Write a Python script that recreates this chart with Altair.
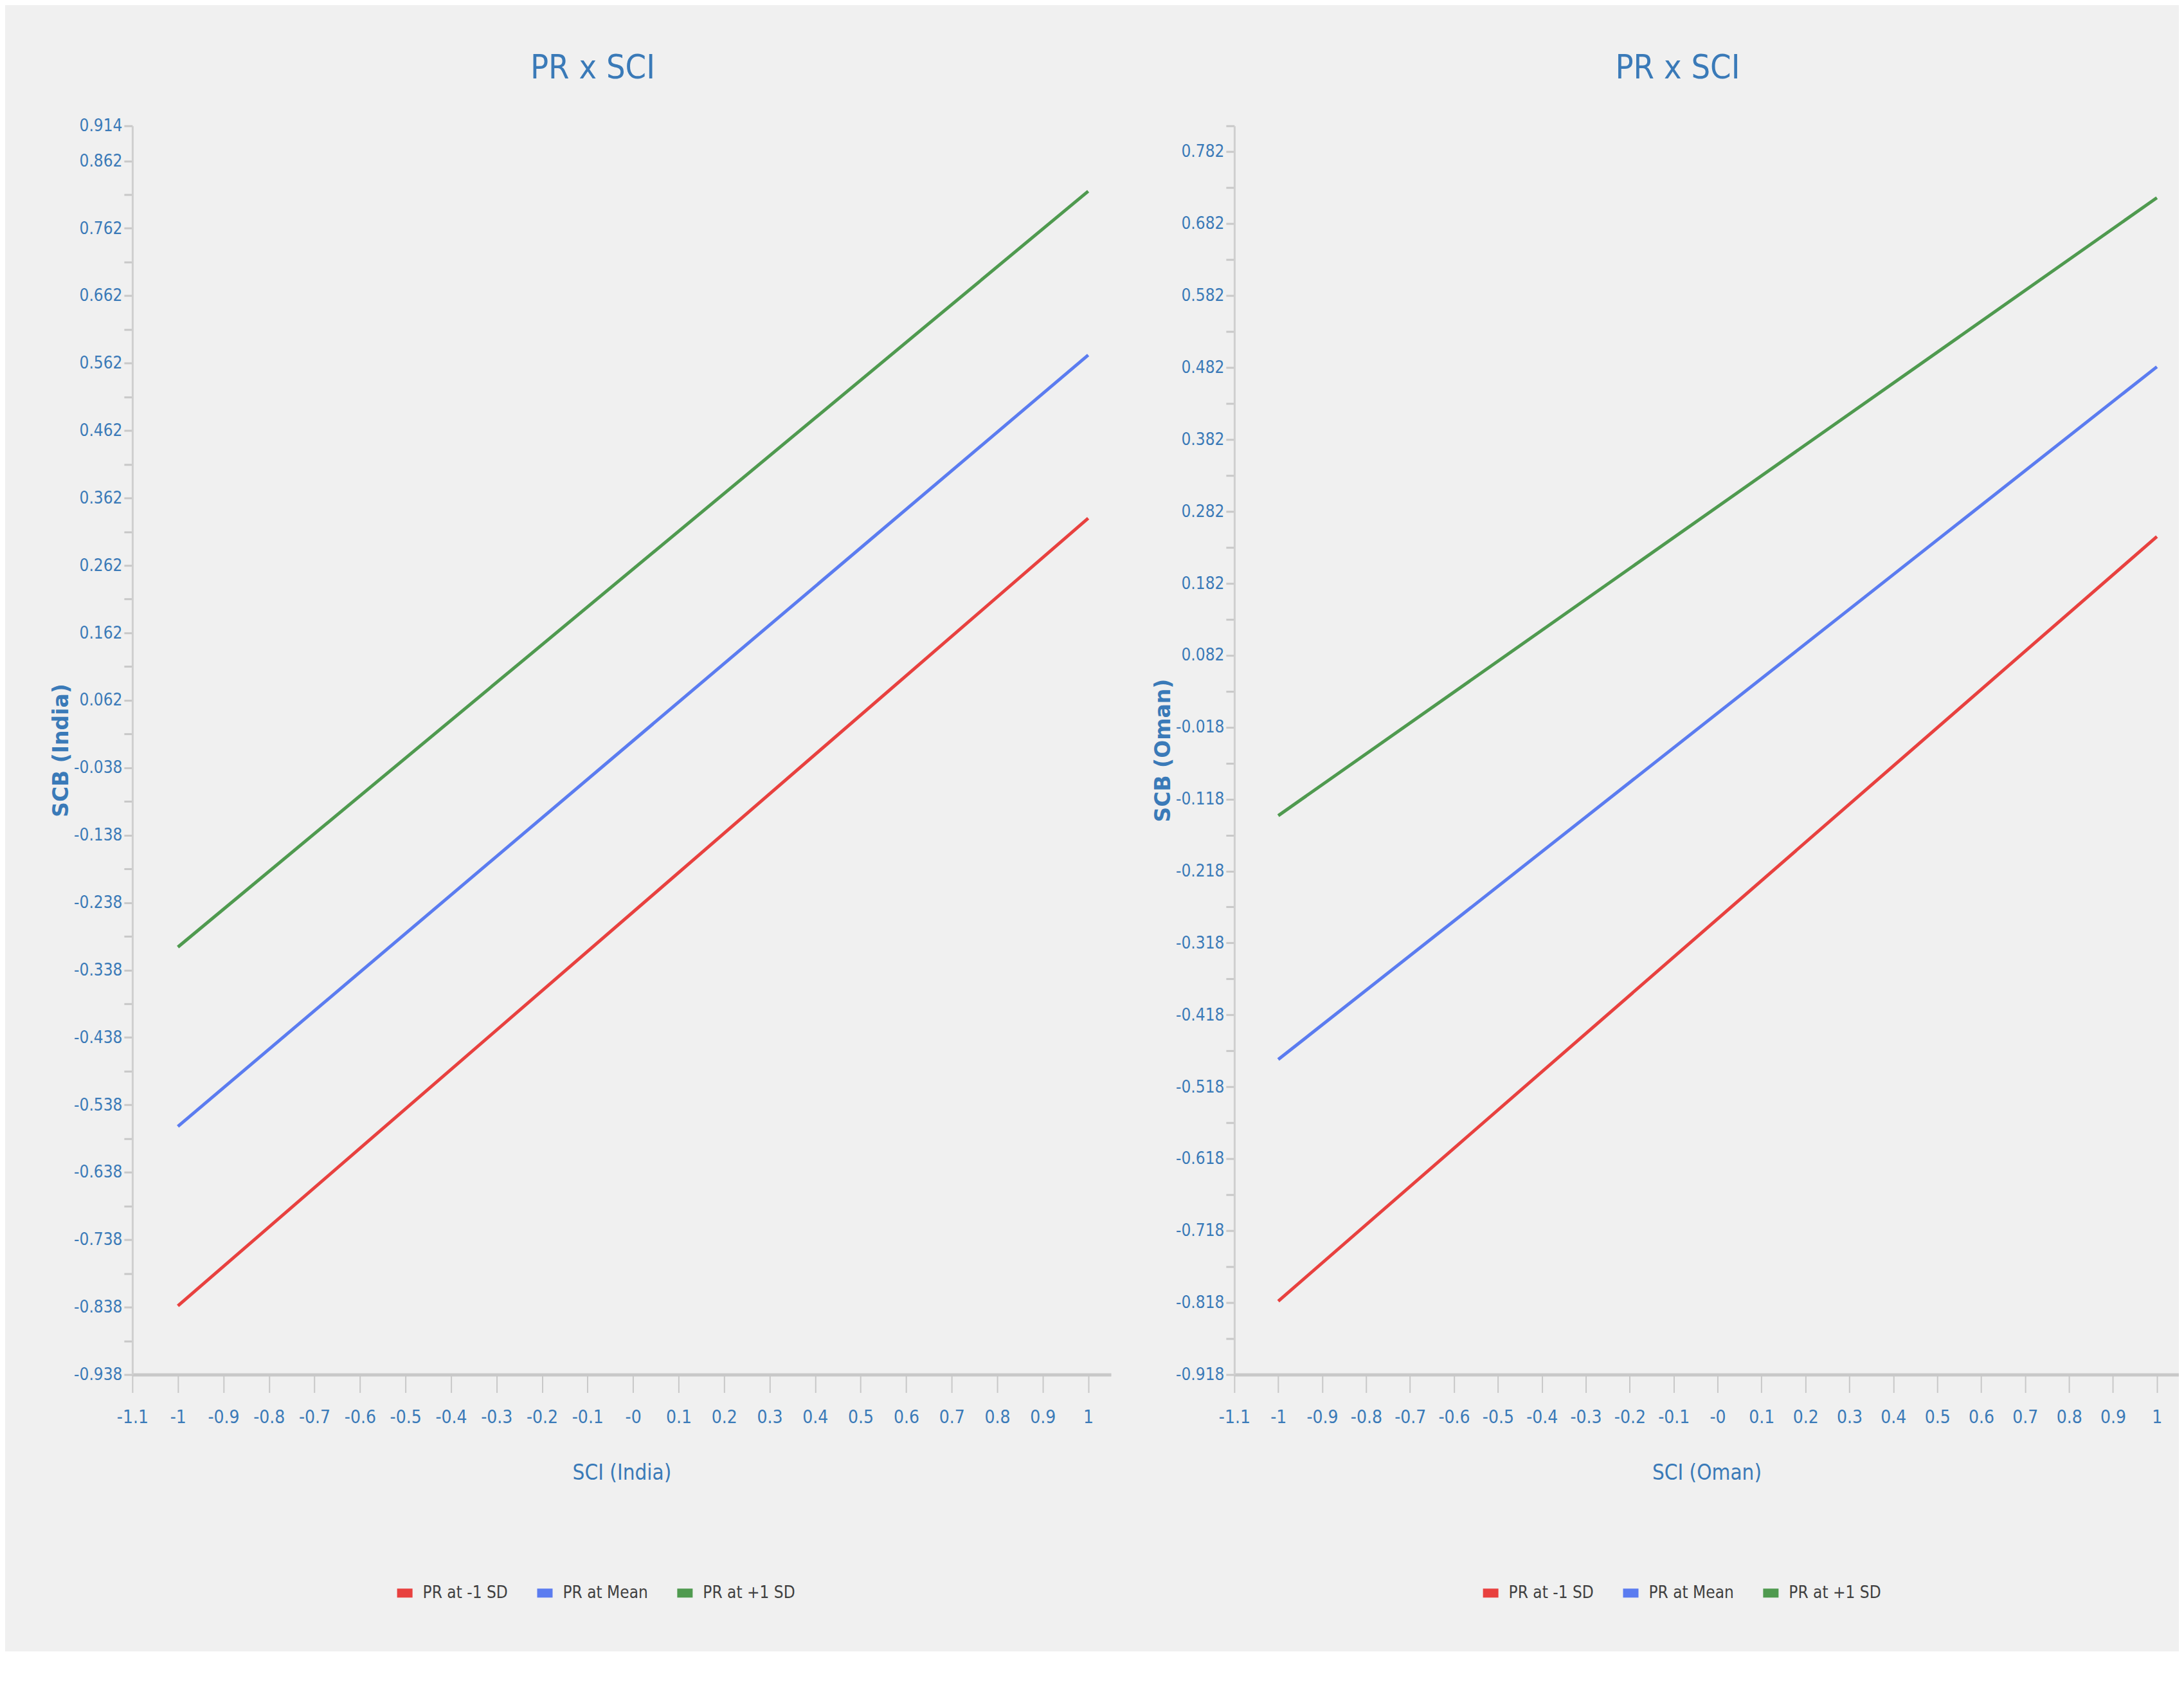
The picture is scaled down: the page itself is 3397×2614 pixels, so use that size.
import json
import altair as alt
import pandas as pd

# ---------------- data ----------------
series = ["PR at -1 SD", "PR at Mean", "PR at +1 SD"]
colors = ["#e8413f", "#5b7cf0", "#4f9a4f"]
sci_x = [-1.0, 1.0]

india_low = [-0.836, 0.332]
india_mean = [-0.570, 0.574]
india_high = [-0.304, 0.817]

oman_low = [-0.816, 0.247]
oman_mean = [-0.480, 0.483]
oman_high = [-0.141, 0.718]

x_ticks = [-1.1, -1.0, -0.9, -0.8, -0.7, -0.6, -0.5, -0.4, -0.3, -0.2, -0.1,
           0.0, 0.1, 0.2, 0.3, 0.4, 0.5, 0.6, 0.7, 0.8, 0.9, 1.0]

india_y_major = [0.914, 0.862, 0.762, 0.662, 0.562, 0.462, 0.362, 0.262, 0.162,
                 0.062, -0.038, -0.138, -0.238, -0.338, -0.438, -0.538, -0.638,
                 -0.738, -0.838, -0.938]
india_y_minor = [0.812, 0.712, 0.612, 0.512, 0.412, 0.312, 0.212, 0.112, 0.012,
                 -0.088, -0.188, -0.288, -0.388, -0.488, -0.588, -0.688, -0.788,
                 -0.888]

oman_y_major = [0.782, 0.682, 0.582, 0.482, 0.382, 0.282, 0.182, 0.082, -0.018,
                -0.118, -0.218, -0.318, -0.418, -0.518, -0.618, -0.718, -0.818,
                -0.918]
oman_y_minor = [0.818, 0.732, 0.632, 0.532, 0.432, 0.332, 0.232, 0.132, 0.032,
                -0.068, -0.168, -0.268, -0.368, -0.468, -0.568, -0.668, -0.768,
                -0.868]

# ---------------- style ----------------
NARROW = "Liberation Sans Narrow, DejaVu Sans Condensed, sans-serif"
BLUE_TXT = "#3a7ab8"
AXIS_GRAY = "#c8c8c8"
PLOT_H = 1943


def panel(lows, means, highs, y_major, y_minor, y_dom, xtitle, ytitle,
          width, legend_x):
    df = pd.DataFrame({
        "SCI": sci_x * 3,
        "SCB": lows + means + highs,
        "Series": [s for s in series for _ in sci_x],
    })
    y_expr = ("indexof(%s, datum.value) >= 0 ? '' + datum.value : ''"
              % json.dumps(y_major))
    x_expr = "datum.value == 0 ? '-0' : '' + datum.value"
    return alt.Chart(df).mark_line(strokeWidth=5).encode(
        x=alt.X(
            "SCI:Q",
            scale=alt.Scale(domain=[-1.1, 1.05], nice=False, zero=False),
            axis=alt.Axis(
                values=x_ticks, labelExpr=x_expr, title=xtitle,
                grid=False, domainColor=AXIS_GRAY, domainWidth=5,
                tickColor=AXIS_GRAY, tickWidth=2, tickSize=28,
                labelFont=NARROW, labelFontSize=28, labelColor=BLUE_TXT,
                labelPadding=25, labelFlush=False, labelOverlap=False,
                titleFont=NARROW, titleFontSize=33, titleFontWeight="normal",
                titleColor=BLUE_TXT, titleBaseline="middle", titleY=153,
            ),
        ),
        y=alt.Y(
            "SCB:Q",
            scale=alt.Scale(domain=y_dom, nice=False, zero=False),
            axis=alt.Axis(
                values=y_major + y_minor, labelExpr=y_expr, title=ytitle,
                grid=False, domainColor="#cfcfcf", domainWidth=3,
                tickColor=AXIS_GRAY, tickWidth=3, tickSize=13,
                labelFont=NARROW, labelFontSize=26, labelColor=BLUE_TXT,
                labelPadding=3, labelFlush=False, labelOverlap=False,
                titleFont="DejaVu Sans", titleFontSize=33,
                titleFontWeight="bold", titleColor=BLUE_TXT,
                titleBaseline="middle", titleX=-110, titleAngle=270,
            ),
        ),
        color=alt.Color(
            "Series:N",
            scale=alt.Scale(domain=series, range=colors),
            sort=series,
            legend=alt.Legend(
                title=None, orient="none", direction="horizontal",
                legendX=legend_x, legendY=2264,
                symbolType="stroke", symbolStrokeWidth=14, symbolSize=576,
                labelFont=NARROW, labelFontSize=26, labelColor="#404040",
                labelOffset=9, columnPadding=17, labelLimit=0,
            ),
        ),
    ).properties(
        width=width, height=PLOT_H,
        title=alt.Title("PR x SCI", font=NARROW, fontSize=52,
                        fontWeight="normal", color=BLUE_TXT, offset=50,
                        dx=-45),
    )


left = panel(india_low, india_mean, india_high, india_y_major, india_y_minor,
             [-0.938, 0.914], "SCI (India)", "SCB (India)", 1523, 405)
right = panel(oman_low, oman_mean, oman_high, oman_y_major, oman_y_minor,
              [-0.918, 0.818], "SCI (Oman)", "SCB (Oman)", 1470, 380)

chart = alt.hconcat(left, right, spacing=66).resolve_legend(
    color="independent"
).properties(
    background="#f0f0f0",
    padding={"left": 72, "top": 71, "right": 0, "bottom": 62},
).configure_view(strokeWidth=0)

chart.save("out.html", embed_options={"renderer": "svg", "actions": False})
